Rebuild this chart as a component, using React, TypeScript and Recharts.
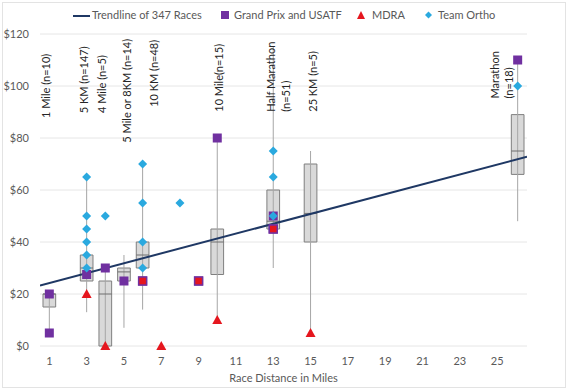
import {
  ComposedChart,
  XAxis,
  YAxis,
  CartesianGrid,
  Line,
  Scatter,
  ReferenceArea,
  ReferenceLine,
  ReferenceDot,
} from 'recharts'

// race categories (box plots)
const raceLabels = [
  ['1 Mile (n=10)'],
  ['5 KM (n=147)'],
  ['4 Mile (n=5)'],
  ['5 Mile or 8KM  (n=14)'],
  ['10 KM (n=48)'],
  ['10 Mile(n=15)'],
  ['Half Marathon', '(n=51)'],
  ['25 KM (n=5)'],
  ['Marathon', '(n=18)'],
]
const raceMiles = [1, 3, 4, 5, 6, 10, 13, 15, 26.1]
const lowWhisker = [5, 13, 0, 7, 14, 10, 30, 5, 48]
const q1 = [15, 25, 0, 25, 30, 27.5, 45, 40, 66]
const median = [20, 30, 20, 28.5, 35, 40, 48, 51, 75]
const q3 = [20, 35, 25, 30, 40, 45, 60, 70, 89]
const highWhisker = [20, 65, 30, 35, 70, 80, 115, 75, 110]

// race fees by series
const grandPrix = [
  { x: 1, y: 20 }, { x: 1, y: 5 }, { x: 3, y: 27.5 }, { x: 4, y: 30 }, { x: 5, y: 25 },
  { x: 6, y: 25 }, { x: 9, y: 25 }, { x: 10, y: 80 }, { x: 13, y: 50 }, { x: 13, y: 45 },
  { x: 26.1, y: 110 },
]
const mdra = [
  { x: 3, y: 20 }, { x: 4, y: 0 }, { x: 6, y: 25 }, { x: 7, y: 0 }, { x: 9, y: 25 },
  { x: 10, y: 10 }, { x: 13, y: 45 }, { x: 15, y: 5 },
]
const teamOrtho = [
  { x: 3, y: 65 }, { x: 3, y: 50 }, { x: 3, y: 45 }, { x: 3, y: 40 }, { x: 3, y: 35 },
  { x: 3, y: 30 }, { x: 4, y: 50 }, { x: 6, y: 70 }, { x: 6, y: 55 }, { x: 6, y: 40 },
  { x: 6, y: 30 }, { x: 8, y: 55 }, { x: 13, y: 75 }, { x: 13, y: 65 }, { x: 13, y: 50 },
  { x: 26.1, y: 100 },
]
const trendline = [
  { x: 0.5, y: 23.3 },
  { x: 26.6, y: 72.8 },
]

const xTicks = [1, 3, 5, 7, 9, 11, 13, 15, 17, 19, 21, 23, 25]
const yTicks = [0, 20, 40, 60, 80, 100, 120]

// label placement (miles / dollars where the rotated text starts)
const labelX = [0.75, 2.8, 3.78, 5.1, 6.56, 10.03, 12.83, 15.06, 24.83]
const labelBase = [87.7, 89.5, 89.6, 78.2, 92, 90.1, 90.1, 90.1, 95.2]

const FONT = 'Lato, "Open Sans", sans-serif'
const PURPLE = '#7030A0'
const RED = '#E5161E'
const TEAL = '#2AA9DF'
const NAVY = '#1F3864'
const BOX_W = 0.34

const same = (a: any, b: any) => a.x === b.x && a.y === b.y

const SquareShape = (p: any) => (
  <rect x={p.cx - 4.5} y={p.cy - 4.5} width={9} height={9} fill={PURPLE} />
)
const TriangleShape = (p: any) => {
  const { cx, cy, payload } = p
  if (payload && grandPrix.some((g) => same(g, payload))) {
    return <rect x={cx - 4} y={cy - 4} width={8} height={8} fill={RED} stroke={PURPLE} strokeWidth={1.5} />
  }
  return <polygon points={`${cx},${cy - 5} ${cx + 5},${cy + 4} ${cx - 5},${cy + 4}`} fill={RED} />
}
const DiamondShape = (p: any) => {
  const { cx, cy } = p
  return <polygon points={`${cx},${cy - 4.5} ${cx + 4.5},${cy} ${cx},${cy + 4.5} ${cx - 4.5},${cy}`} fill={TEAL} />
}

function Legend() {
  const txt: any = { position: 'absolute', top: 8, fontFamily: FONT, fontSize: 11, color: '#595959', whiteSpace: 'nowrap' }
  return (
    <div style={{ position: 'absolute', left: 0, top: 0, width: 576, height: 30 }}>
      <div style={{ position: 'absolute', left: 73, top: 15, width: 17, height: 2, background: NAVY }} />
      <span style={{ ...txt, left: 92 }}>Trendline of 347 Races</span>
      <svg style={{ position: 'absolute', left: 0, top: 0 }} width={576} height={30}>
        <rect x={221} y={11} width={8} height={8} fill={PURPLE} />
        <polygon points="361,11 365,19 357,19" fill={RED} />
        <polygon points="428.5,11.5 432,15 428.5,18.5 425,15" fill={TEAL} />
      </svg>
      <span style={{ ...txt, left: 234 }}>Grand Prix and USATF</span>
      <span style={{ ...txt, left: 372 }}>MDRA</span>
      <span style={{ ...txt, left: 438 }}>Team Ortho</span>
    </div>
  )
}

export default function App() {
  const tick = { fontSize: 11, fill: '#595959', fontFamily: FONT }
  return (
    <div style={{ position: 'absolute', left: 0, top: 0, width: 576, height: 392, background: '#fff' }}>
      <div
        style={{
          position: 'absolute', left: 2, top: 2, width: 564, height: 386,
          border: '1px solid #E3E3E3', boxSizing: 'border-box',
        }}
      />
      <ComposedChart width={576} height={392} margin={{ top: 34, right: 9, left: 0, bottom: 6 }}>
        <CartesianGrid vertical={false} stroke="#E6E6E6" />
        <XAxis
          dataKey="x"
          type="number"
          domain={[0.5, 26.6]}
          ticks={xTicks}
          allowDataOverflow
          axisLine={false}
          tickLine={false}
          tickMargin={5}
          height={40}
          tick={tick}
          label={{ value: 'Race Distance in Miles', position: 'insideBottom', offset: 4, fontSize: 11, fill: '#595959', fontFamily: FONT }}
        />
        <YAxis
          dataKey="y"
          type="number"
          domain={[0, 120]}
          ticks={yTicks}
          width={40}
          axisLine={false}
          tickLine={false}
          tickMargin={5}
          tick={tick}
          tickFormatter={(v: number) => `$${v}`}
        />
        <YAxis
          yAxisId="right"
          orientation="right"
          type="number"
          domain={[0, 120]}
          ticks={yTicks}
          width={40}
          axisLine={false}
          tickLine={false}
          tickMargin={5}
          tick={tick}
          tickFormatter={(v: number) => `$${v}`}
        />

        {raceMiles.map((m, i) => (
          <ReferenceLine
            key={`w${i}`}
            segment={[{ x: m, y: lowWhisker[i] }, { x: m, y: highWhisker[i] }]}
            stroke="#A6A6A6"
            strokeWidth={1}
          />
        ))}
        {raceMiles.map((m, i) => (
          <ReferenceArea
            key={`b${i}`}
            x1={m - BOX_W}
            x2={m + BOX_W}
            y1={q1[i]}
            y2={q3[i]}
            fill="#D9D9D9"
            fillOpacity={1}
            stroke="#7F7F7F"
            strokeWidth={1}
          />
        ))}
        {raceMiles.map((m, i) => (
          <ReferenceLine
            key={`m${i}`}
            segment={[{ x: m - BOX_W, y: median[i] }, { x: m + BOX_W, y: median[i] }]}
            stroke="#6F6F6F"
            strokeWidth={1}
          />
        ))}
        {raceLabels.map((lines, i) => (
          <ReferenceDot
            key={`l${i}`}
            x={labelX[i]}
            y={labelBase[i]}
            r={0}
            shape={(p: any) => (
              <text
                transform={`rotate(-90, ${p.cx}, ${p.cy})`}
                x={p.cx}
                y={p.cy}
                fontFamily={FONT}
                fontSize={11}
                fill="#262626"
                dominantBaseline="central"
              >
                {lines.map((ln, j) => (
                  <tspan key={j} x={p.cx} dy={j === 0 ? 0 : 14.5}>
                    {ln}
                  </tspan>
                ))}
              </text>
            )}
          />
        ))}

        <Line
          data={trendline}
          dataKey="y"
          type="linear"
          stroke={NAVY}
          strokeWidth={2}
          dot={false}
          activeDot={false}
          isAnimationActive={false}
        />
        <Scatter data={grandPrix} dataKey="y" shape={SquareShape} isAnimationActive={false} />
        <Scatter data={mdra} dataKey="y" shape={TriangleShape} isAnimationActive={false} />
        <Scatter data={teamOrtho} dataKey="y" shape={DiamondShape} isAnimationActive={false} />
      </ComposedChart>
      <Legend />
    </div>
  )
}
